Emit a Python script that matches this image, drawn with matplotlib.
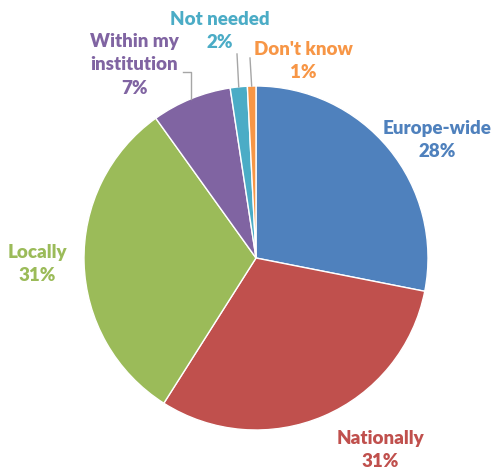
import numpy as np
import matplotlib
matplotlib.use('Agg')
import matplotlib.pyplot as plt

# Survey answer shares (%), clockwise from 12 o'clock
categories = ['Europe-wide', 'Nationally', 'Locally', 'Within my\ninstitution', 'Not needed', "Don't know"]
shares = [28.1, 30.9, 31.1, 7.5, 1.6, 0.8]
pct_labels = ['28%', '31%', '31%', '7%', '2%', '1%']
colors = ['#4F81BD', '#C0504D', '#9BBB59', '#8064A2', '#4BACC6', '#F79646']

plt.rcParams['font.family'] = ['Lato', 'DejaVu Sans']

W, H = 497, 475
fig = plt.figure(figsize=(W / 100, H / 100), dpi=100)
ax = fig.add_axes([0, 0, 1, 1])

cx, cy, r = 256, H - 258, 172
wedges, _ = ax.pie(shares, colors=colors, startangle=90, counterclock=False,
                   center=(cx, cy), radius=r, frame=True,
                   wedgeprops=dict(edgecolor='white', linewidth=1))
ax.set_xlim(0, W)
ax.set_ylim(0, H)
ax.set_aspect('equal')
ax.axis('off')

# label positions (pixel coords, y from top)
label_pos = [(437, 140), (380, 450), (37, 264), (134, 65), (220, 31), (303, 61)]
for wedge, name, pct, (x, y) in zip(wedges, categories, pct_labels, label_pos):
    ax.text(x, H - y, f'{name}\n{pct}', ha='center', va='center',
            fontsize=13.5, fontweight='heavy', color=wedge.get_facecolor(),
            linespacing=1.45)

# leader lines for the small slices
def edge_point(w):
    mid = np.deg2rad((w.theta1 + w.theta2) / 2)
    return cx + r * np.cos(mid), cy + r * np.sin(mid)

lc = '#A6A6A6'
ex, ey = edge_point(wedges[3])
ax.plot([183, ex, ex], [H - 72, H - 72, ey], color=lc, lw=1)
ex, ey = edge_point(wedges[4])
ax.plot([237, ex], [H - 54, ey], color=lc, lw=1)
ex, ey = edge_point(wedges[5])
ax.plot([250, ex], [H - 58, ey], color=lc, lw=1)

fig.savefig('out.png', dpi=100, facecolor='white')
